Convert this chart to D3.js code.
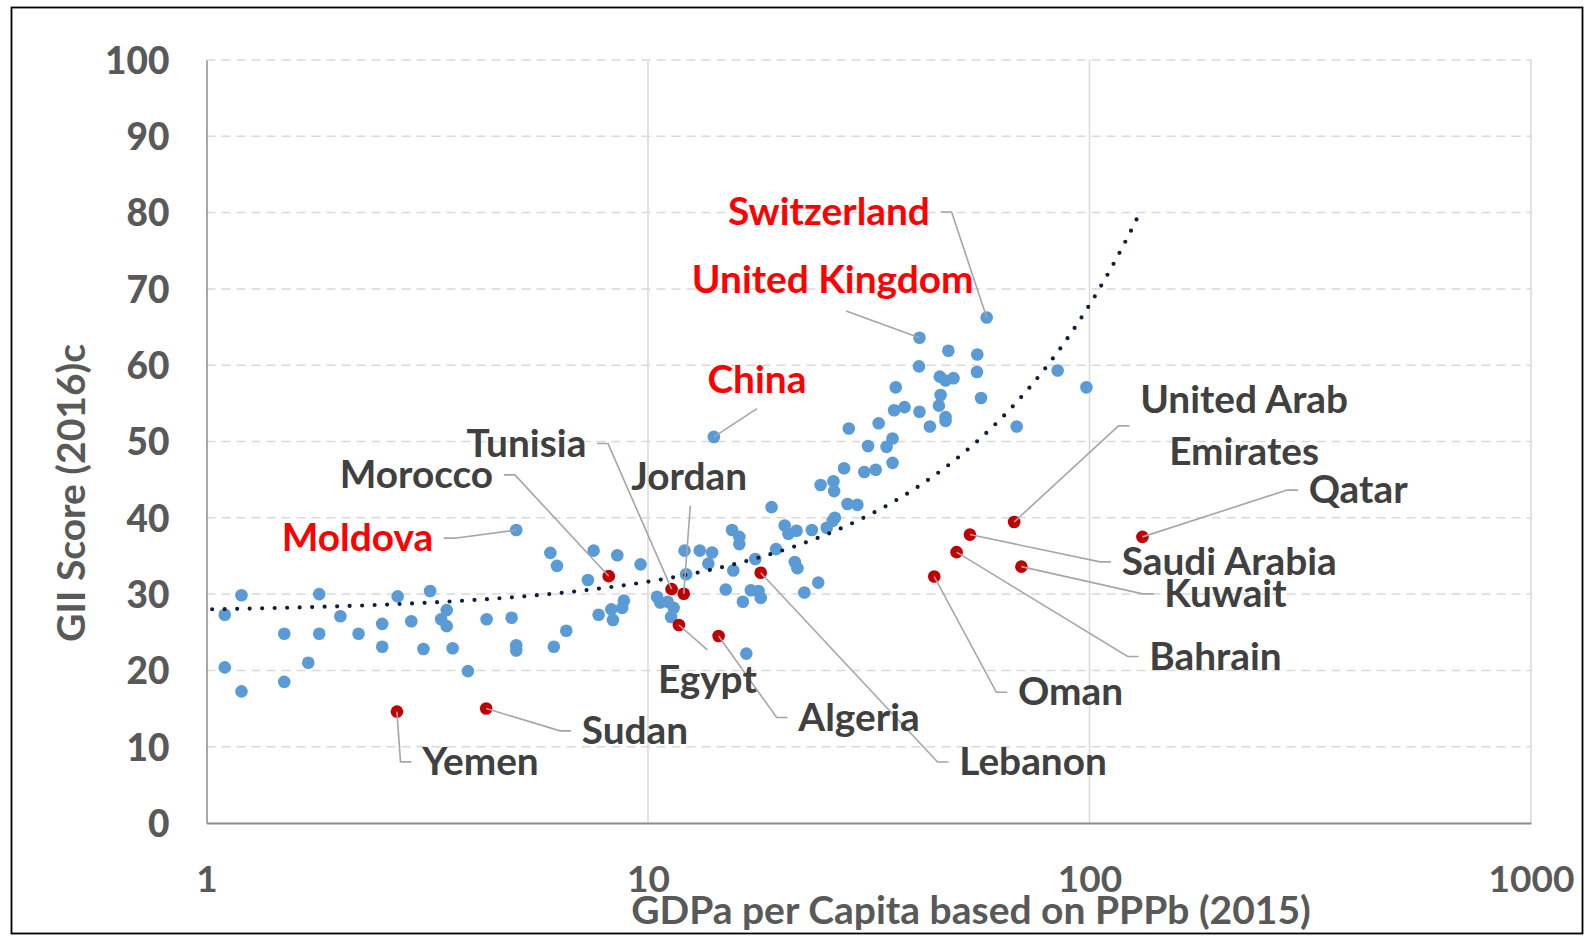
<!DOCTYPE html>
<html>
<head>
<meta charset="utf-8">
<script src="https://cdn.jsdelivr.net/npm/d3@7"></script>
<style>
  body { margin: 0; background: #fff; }
  svg text { font-family: Lato, "Open Sans", sans-serif; font-weight: 700; }
</style>
</head>
<body>
<svg id="chart" width="1595" height="936"></svg>
<script>
const xTicks = [1, 10, 100, 1000];
const yTicks = [0, 10, 20, 30, 40, 50, 60, 70, 80, 90, 100];

// all other economies (blue)
const blueGdp = [1.10, 1.20, 1.10, 1.20, 1.50, 1.50, 1.70, 1.80, 1.80, 2.01, 2.21, 2.50, 2.50, 2.71, 2.91, 3.10,
  3.21, 3.40, 3.50, 3.50, 3.61, 3.91, 4.31, 4.91, 5.03, 5.03, 6.01, 6.22, 6.12, 6.53, 7.31, 7.53, 7.73, 8.26,
  8.33, 8.52, 8.74, 8.82, 9.62, 10.48, 10.66, 11.08, 11.43, 11.28, 12.1, 12.2, 13.1, 13.7, 13.97, 15.0, 15.5,
  15.6, 16.1, 16.1, 16.4, 16.7, 17.1, 17.5, 17.8, 18.0, 19.05, 19.5, 20.4, 20.8, 21.5, 21.7, 21.8, 22.6, 23.5,
  24.3, 24.6, 25.4, 26.2, 26.5, 26.3, 26.4, 27.8, 28.3, 28.5, 29.8, 30.9, 31.5, 32.8, 33.3, 34.7, 35.8, 35.8,
  36.1, 36.4, 38.1, 41.1, 41.2, 43.5, 45.6, 45.8, 46.0, 47.2, 47.2, 47.2, 47.9, 49.2, 55.6, 55.7, 56.8, 68.4,
  84.7, 98.4];
const blueGii = [27.3, 29.85, 20.4, 17.25, 24.8, 18.5, 21.0, 30.0, 24.8, 27.1, 24.8, 26.1, 23.1, 29.7, 26.45, 22.8,
  30.4, 26.7, 27.9, 25.8, 22.9, 19.9, 26.7, 26.9, 23.3, 22.6, 35.4, 33.7, 23.1, 25.2, 31.85, 35.7, 27.3, 28.0,
  26.6, 35.1, 28.2, 29.15, 33.9, 29.65, 28.9, 29.0, 28.2, 27.0, 35.7, 32.6, 35.7, 34.0, 35.45, 30.6, 38.4,
  33.1, 37.5, 36.55, 29.0, 22.2, 30.5, 34.6, 30.4, 29.5, 41.4, 35.9, 39.0, 37.9, 34.2, 38.3, 33.4, 30.2, 38.4,
  31.5, 44.3, 38.7, 39.6, 40.0, 44.8, 43.5, 46.5, 41.8, 51.7, 41.7, 46.0, 49.4, 46.3, 52.4, 49.3, 50.4, 47.2,
  54.1, 57.1, 54.5, 59.85, 53.9, 51.96, 54.7, 58.5, 56.1, 58.0, 53.2, 52.7, 61.9, 58.3, 59.1, 61.4, 55.7, 51.96,
  59.3, 57.1];

// named blue points (red labels)
const starNames = ['Switzerland', 'United Kingdom', 'China', 'Moldova'];
const starGdp = [58.5, 41.2, 14.1, 5.03];
const starGii = [66.25, 63.6, 50.6, 38.4];

// Arab economies (red)
const arabNames = ['Morocco', 'Tunisia', 'Jordan', 'Egypt', 'Algeria', 'Lebanon', 'Yemen', 'Sudan',
  'United Arab Emirates', 'Saudi Arabia', 'Bahrain', 'Kuwait', 'Oman', 'Qatar'];
const arabGdp = [8.15, 11.31, 12.05, 11.75, 14.45, 18.0, 2.70, 4.30, 67.5, 53.6, 50.0, 70.1, 44.5, 131.8];
const arabGii = [32.35, 30.65, 30.05, 25.95, 24.5, 32.8, 14.6, 15.0, 39.45, 37.8, 35.5, 33.6, 32.3, 37.5];

// linear trendline
const trendIntercept = 27.6;
const trendSlope = 0.403;
const trendFrom = 1.03;
const trendTo = 130;

// label anchors in data units; side = where the leader leaves the text
const notes = [
  {name: 'Switzerland', red: true, at: [43.5, 78.35], side: 'right'},
  {name: 'United Kingdom', red: true, at: [26.2, 69.4], side: 'free', end: [28.1, 67.1]},
  {name: 'China', red: true, at: [17.65, 56.4], side: 'free', end: [17.65, 54.3]},
  {name: 'Moldova', red: true, at: [3.26, 35.6], side: 'right'},
  {name: 'Morocco', at: [4.46, 43.9], side: 'right'},
  {name: 'Tunisia', at: [7.25, 48.0], side: 'right'},
  {name: 'Jordan', at: [12.4, 43.7], side: 'free', end: [12.47, 41.6]},
  {name: 'Egypt', at: [13.63, 17.0], side: 'free', end: [13.63, 22.7]},
  {name: 'Algeria', at: [21.9, 12.1], side: 'left'},
  {name: 'Lebanon', at: [50.7, 6.27], side: 'left'},
  {name: 'Sudan', at: [7.08, 10.35], side: 'left'},
  {name: 'Yemen', at: [3.08, 6.28], side: 'left'},
  {name: 'United Arab Emirates', lines: ['United Arab', 'Emirates'], at: [224, 53.73], side: 'left', centered: true},
  {name: 'Qatar', at: [313.7, 41.9], side: 'left'},
  {name: 'Saudi Arabia', at: [118.3, 32.5], side: 'left'},
  {name: 'Kuwait', at: [147.7, 28.3], side: 'left'},
  {name: 'Bahrain', at: [136.6, 20.1], side: 'left'},
  {name: 'Oman', at: [68.9, 15.4], side: 'left'},
];

const svg = d3.select('#chart');

const x = d3.scaleLog().domain([1, 1000]).range([206.5, 1531]);
const y = d3.scaleLinear().domain([0, 100]).range([823, 60]);

svg.append('rect')
  .attr('x', 11.5).attr('y', 7.5).attr('width', 1571).attr('height', 926)
  .attr('fill', 'none').attr('stroke', '#000').attr('stroke-width', 1.8);

// grid
svg.append('g').selectAll('line')
  .data(yTicks.filter(d => d > 0))
  .join('line')
  .attr('x1', x(1)).attr('x2', x(1000))
  .attr('y1', d => y(d)).attr('y2', d => y(d))
  .attr('stroke', '#d9d9d9').attr('stroke-width', 1.5).attr('stroke-dasharray', '9 6');

svg.append('g').selectAll('line')
  .data(xTicks.slice(1))
  .join('line')
  .attr('x1', d => x(d)).attr('x2', d => x(d))
  .attr('y1', y(0)).attr('y2', y(100))
  .attr('stroke', '#d9d9d9').attr('stroke-width', 1.5);

// axes
const yAxis = svg.append('g')
  .attr('transform', `translate(${x(1)},0)`)
  .call(d3.axisLeft(y).tickValues(yTicks).tickSize(0).tickPadding(37));
yAxis.select('.domain').attr('stroke', '#8c8c8c').attr('stroke-width', 1.5);
yAxis.selectAll('text')
  .attr('dy', '0.36em')
  .style('font-size', '37px').style('font-weight', 900).style('fill', '#595959');

const xAxis = svg.append('g')
  .attr('transform', `translate(0,${y(0)})`)
  .call(d3.axisBottom(x).tickValues(xTicks).tickFormat(d3.format('d')).tickSize(0));
xAxis.select('.domain').attr('stroke', '#8c8c8c').attr('stroke-width', 2);
xAxis.selectAll('text')
  .attr('y', 69).attr('dy', 0)
  .style('font-size', '37px').style('fill', '#595959');

svg.append('text')
  .attr('x', 971).attr('y', 924)
  .attr('text-anchor', 'middle')
  .style('font-size', '39px').style('fill', '#595959')
  .text('GDPa per Capita based on PPPb (2015)');

svg.append('text')
  .attr('transform', 'translate(85,493) rotate(-90)')
  .attr('text-anchor', 'middle')
  .style('font-size', '39px').style('fill', '#595959')
  .text('GII Score (2016)c');

// points
const blue = d3.zip(blueGdp, blueGii).concat(d3.zip(starGdp, starGii));
svg.append('g').selectAll('circle')
  .data(blue)
  .join('circle')
  .attr('cx', d => x(d[0])).attr('cy', d => y(d[1]))
  .attr('r', 6.3).attr('fill', '#5b9bd5');

svg.append('g').selectAll('circle')
  .data(d3.zip(arabGdp, arabGii))
  .join('circle')
  .attr('cx', d => x(d[0])).attr('cy', d => y(d[1]))
  .attr('r', 6.3).attr('fill', '#c00000');

// trendline
const trendXs = d3.range(0, 201).map(i => Math.pow(10, Math.log10(trendFrom) + i / 200 * (Math.log10(trendTo) - Math.log10(trendFrom))));
svg.append('path')
  .datum(trendXs)
  .attr('d', d3.line().x(d => x(d)).y(d => y(trendIntercept + trendSlope * d)))
  .attr('fill', 'none').attr('stroke', '#0f1f3b').attr('stroke-width', 4.2)
  .attr('stroke-linecap', 'round').attr('stroke-dasharray', '0 12.5');

// labels + leader lines
const capH = 26.4, gap = 10.7, seg = 11, lineStep = 52;
const pointOf = name => {
  let i = arabNames.indexOf(name);
  if (i >= 0) return [x(arabGdp[i]), y(arabGii[i])];
  i = starNames.indexOf(name);
  return [x(starGdp[i]), y(starGii[i])];
};
const leaders = svg.append('g');
const labels = svg.append('g');

notes.forEach(n => {
  const lines = n.lines || [n.name];
  const lx = x(n.at[0]), ly = y(n.at[1]);
  let anchor = 'middle';
  if (n.side === 'right') anchor = 'end';
  if (n.side === 'left' && !n.centered) anchor = 'start';
  const t = labels.append('text')
    .attr('text-anchor', anchor)
    .style('font-size', '38.8px')
    .style('fill', n.red ? '#ff0000' : '#404040');
  lines.forEach((s, k) => t.append('tspan').attr('x', lx).attr('y', ly + k * lineStep).text(s));
  const w = d3.max(t.selectAll('tspan').nodes(), e => e.getComputedTextLength());
  const p = pointOf(n.name);
  const midY = (ly - capH + ly + (lines.length - 1) * lineStep) / 2;
  let pts;
  if (n.side === 'right') {
    const ax = (anchor === 'end' ? lx : lx + w / 2) + gap;
    pts = [[ax, midY], [ax + seg, midY], p];
  } else if (n.side === 'left') {
    const ax = (anchor === 'start' ? lx : lx - w / 2) - gap;
    pts = [[ax, midY], [ax - seg, midY], p];
  } else {
    pts = [[x(n.end[0]), y(n.end[1])], p];
  }
  leaders.append('path')
    .attr('d', d3.line()(pts))
    .attr('fill', 'none').attr('stroke', '#a6a6a6').attr('stroke-width', 1.6);
});
</script>
</body>
</html>
